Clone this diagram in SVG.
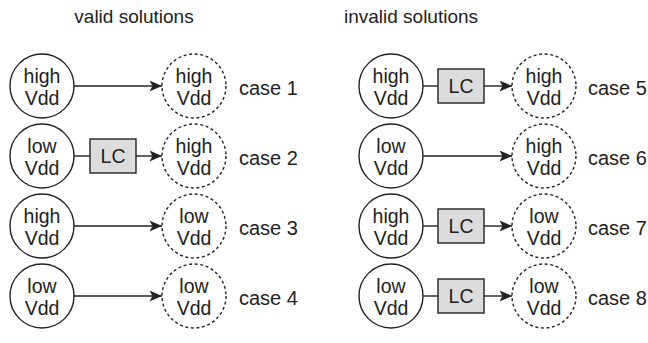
<svg xmlns="http://www.w3.org/2000/svg" width="648" height="343" viewBox="0 0 648 343">
<style>
text{font-family:"Liberation Sans",Arial,sans-serif;fill:#222;}
.t{font-size:19px;text-anchor:middle;}
.n{font-size:19.5px;text-anchor:middle;}
.c{font-size:20px;}
.src{fill:#fff;stroke:#222;stroke-width:1.4;}
.tgt{fill:#fff;stroke:#222;stroke-width:1.4;stroke-dasharray:3 2.6;}
.lc{fill:#dcdcdc;stroke:#222;stroke-width:1.4;}
.e{stroke:#222;stroke-width:1.4;fill:none;}
.a{stroke:#222;stroke-width:1.4;fill:none;marker-end:url(#ah);}
</style>
<defs>
<marker id="ah" markerWidth="14" markerHeight="12" refX="12.5" refY="5.5" orient="auto" markerUnits="userSpaceOnUse">
<path d="M0,0 L12.5,5.5 L0,11 L3,5.5 z" fill="#222"/>
</marker>
</defs>
<text class="t" x="134" y="23">valid solutions</text>
<text class="t" x="411" y="23">invalid solutions</text>

<g id="connectors">
<line class="a" x1="74" y1="86" x2="162" y2="86"/>
<line class="e" x1="74" y1="156" x2="90" y2="156"/>
<line class="a" x1="136" y1="156" x2="162" y2="156"/>
<line class="a" x1="74" y1="226" x2="162" y2="226"/>
<line class="a" x1="74" y1="296" x2="162" y2="296"/>
<line class="e" x1="423" y1="86" x2="438" y2="86"/>
<line class="a" x1="484" y1="86" x2="512" y2="86"/>
<line class="a" x1="423" y1="156" x2="512" y2="156"/>
<line class="e" x1="423" y1="226" x2="438" y2="226"/>
<line class="a" x1="484" y1="226" x2="512" y2="226"/>
<line class="e" x1="423" y1="296" x2="438" y2="296"/>
<line class="a" x1="484" y1="296" x2="512" y2="296"/>
</g>

<g id="s1"><circle class="src" cx="42" cy="86" r="32"/><text class="n" x="42" y="83">high</text><text class="n" x="42" y="105">Vdd</text></g>
<g id="t1"><circle class="tgt" cx="194" cy="86" r="32"/><text class="n" x="194" y="83">high</text><text class="n" x="194" y="105">Vdd</text></g>
<text class="c" x="239" y="95">case 1</text>

<g id="s2"><circle class="src" cx="42" cy="156" r="32"/><text class="n" x="42" y="153">low</text><text class="n" x="42" y="175">Vdd</text></g>
<g id="lc2"><rect class="lc" x="90" y="139" width="46" height="34"/><text class="n" x="113" y="163">LC</text></g>
<g id="t2"><circle class="tgt" cx="194" cy="156" r="32"/><text class="n" x="194" y="153">high</text><text class="n" x="194" y="175">Vdd</text></g>
<text class="c" x="239" y="165">case 2</text>

<g id="s3"><circle class="src" cx="42" cy="226" r="32"/><text class="n" x="42" y="223">high</text><text class="n" x="42" y="245">Vdd</text></g>
<g id="t3"><circle class="tgt" cx="194" cy="226" r="32"/><text class="n" x="194" y="223">low</text><text class="n" x="194" y="245">Vdd</text></g>
<text class="c" x="239" y="235">case 3</text>

<g id="s4"><circle class="src" cx="42" cy="296" r="32"/><text class="n" x="42" y="293">low</text><text class="n" x="42" y="315">Vdd</text></g>
<g id="t4"><circle class="tgt" cx="194" cy="296" r="32"/><text class="n" x="194" y="293">low</text><text class="n" x="194" y="315">Vdd</text></g>
<text class="c" x="239" y="305">case 4</text>

<g id="s5"><circle class="src" cx="391" cy="86" r="32"/><text class="n" x="391" y="83">high</text><text class="n" x="391" y="105">Vdd</text></g>
<g id="lc5"><rect class="lc" x="438" y="69" width="46" height="34"/><text class="n" x="461" y="93">LC</text></g>
<g id="t5"><circle class="tgt" cx="544" cy="86" r="32"/><text class="n" x="544" y="83">high</text><text class="n" x="544" y="105">Vdd</text></g>
<text class="c" x="588" y="95">case 5</text>

<g id="s6"><circle class="src" cx="391" cy="156" r="32"/><text class="n" x="391" y="153">low</text><text class="n" x="391" y="175">Vdd</text></g>
<g id="t6"><circle class="tgt" cx="544" cy="156" r="32"/><text class="n" x="544" y="153">high</text><text class="n" x="544" y="175">Vdd</text></g>
<text class="c" x="588" y="165">case 6</text>

<g id="s7"><circle class="src" cx="391" cy="226" r="32"/><text class="n" x="391" y="223">high</text><text class="n" x="391" y="245">Vdd</text></g>
<g id="lc7"><rect class="lc" x="438" y="209" width="46" height="34"/><text class="n" x="461" y="233">LC</text></g>
<g id="t7"><circle class="tgt" cx="544" cy="226" r="32"/><text class="n" x="544" y="223">low</text><text class="n" x="544" y="245">Vdd</text></g>
<text class="c" x="588" y="235">case 7</text>

<g id="s8"><circle class="src" cx="391" cy="296" r="32"/><text class="n" x="391" y="293">low</text><text class="n" x="391" y="315">Vdd</text></g>
<g id="lc8"><rect class="lc" x="438" y="279" width="46" height="34"/><text class="n" x="461" y="303">LC</text></g>
<g id="t8"><circle class="tgt" cx="544" cy="296" r="32"/><text class="n" x="544" y="293">low</text><text class="n" x="544" y="315">Vdd</text></g>
<text class="c" x="588" y="305">case 8</text>
</svg>
